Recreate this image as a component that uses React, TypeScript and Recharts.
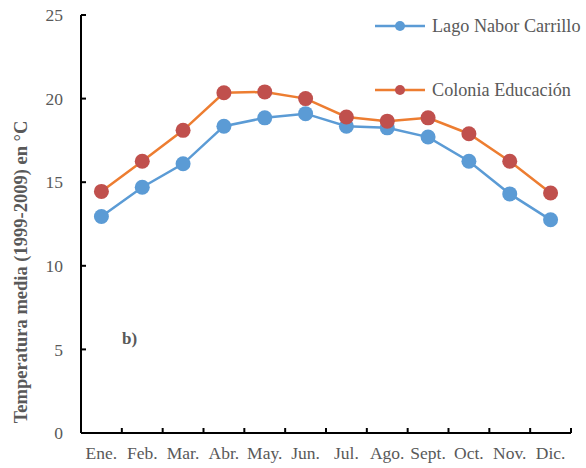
import React from "react";
import { LineChart, Line, XAxis, YAxis, Legend } from "recharts";

const months = ["Ene.", "Feb.", "Mar.", "Abr.", "May.", "Jun.", "Jul.", "Ago.", "Sept.", "Oct.", "Nov.", "Dic."];
const lagoNaborCarrillo = [12.95, 14.7, 16.1, 18.35, 18.85, 19.1, 18.35, 18.25, 17.7, 16.25, 14.3, 12.75];
const coloniaEducacion = [14.45, 16.25, 18.1, 20.35, 20.4, 20.0, 18.9, 18.65, 18.85, 17.9, 16.25, 14.35];
const yTicks = [0, 5, 10, 15, 20, 25];

const SERIES_A = "Lago Nabor Carrillo";
const SERIES_B = "Colonia Educación";

const data = months.map((m, i) => ({ m, a: lagoNaborCarrillo[i], b: coloniaEducacion[i] }));

const FONT = "Liberation Serif, Times New Roman, DejaVu Serif, serif";
const TEXT = "#595959";
const BLUE = "#5B9BD5";
const ORANGE = "#ED7D31";
const RED = "#C0504D";

const W = 586;
const H = 468;
const M = { top: 15, right: 15, left: 0, bottom: 0 };
const YW = 81;
const XH = 35;
const BAND = (W - M.right - YW) / months.length;
const X_MARGIN = 14;
const Y_MARGIN = 18;

const txt = (size: number, bold = false): React.CSSProperties => ({
  fontFamily: FONT,
  fontSize: size,
  fontWeight: bold ? 700 : 400,
  fill: TEXT,
});

const YTick = (props: any) => {
  const { x, y, payload } = props;
  const ax = x + Y_MARGIN;
  return (
    <g>
      {payload.value !== 0 ? (
        <line x1={ax} x2={ax + 5} y1={y} y2={y} stroke="#000" strokeWidth={2} />
      ) : null}
      <text x={x} y={y} dy="0.35em" textAnchor="end" style={txt(17.5)}>
        {payload.value}
      </text>
    </g>
  );
};

const XTick = (props: any) => {
  const { x, y, payload, index } = props;
  const ay = y - X_MARGIN;
  const lx = x - BAND / 2;
  const rx = x + BAND / 2;
  return (
    <g>
      {index > 0 ? <line x1={lx} x2={lx} y1={ay} y2={ay - 5} stroke="#000" strokeWidth={2} /> : null}
      {index === months.length - 1 ? (
        <line x1={rx} x2={rx} y1={ay} y2={ay - 5} stroke="#000" strokeWidth={2} />
      ) : null}
      <text x={x} y={y} dy="0.71em" textAnchor="middle" style={txt(17.5)}>
        {payload.value}
      </text>
    </g>
  );
};

const YLabel = () => (
  <g>
    <text
      x={21}
      y={272}
      transform="rotate(-90, 21, 272)"
      textAnchor="middle"
      dominantBaseline="central"
      style={txt(18.5, true)}
    >
      Temperatura media (1999-2009) en °C
    </text>
    <text x={122} y={344} style={txt(17, true)}>
      b)
    </text>
  </g>
);

const LegendContent = () => {
  const items = [
    { name: SERIES_A, line: BLUE, dot: BLUE, y: 26 },
    { name: SERIES_B, line: ORANGE, dot: RED, y: 90 },
  ];
  return (
    <svg width={216} height={110} style={{ display: "block" }}>
      {items.map((it) => (
        <g key={it.name}>
          <line x1={5} x2={55} y1={it.y} y2={it.y} stroke={it.line} strokeWidth={2.5} />
          <circle cx={30} cy={it.y} r={5} fill={it.dot} />
          <text x={62} y={it.y} dy="0.35em" style={txt(18.2)}>
            {it.name}
          </text>
        </g>
      ))}
    </svg>
  );
};

export default function App() {
  return (
    <div style={{ position: "absolute", left: 0, top: 0, width: W, height: H, background: "#fff" }}>
      <LineChart width={W} height={H} data={data} margin={M}>
        <XAxis
          dataKey="m"
          scale="band"
          height={XH}
          tickSize={0}
          tickMargin={X_MARGIN}
          tickLine={false}
          axisLine={{ stroke: "#000", strokeWidth: 2 }}
          tick={<XTick />}
          interval={0}
        />
        <YAxis
          width={YW}
          domain={[0, 25]}
          ticks={yTicks}
          tickSize={0}
          tickMargin={Y_MARGIN}
          tickLine={false}
          axisLine={{ stroke: "#000", strokeWidth: 2 }}
          tick={<YTick />}
          label={{ content: () => <YLabel /> }}
        />
        <Legend
          layout="horizontal"
          verticalAlign="middle"
          align="center"
          content={() => <LegendContent />}
          wrapperStyle={{ position: "absolute", left: 370, top: 0, width: 216, height: 110 }}
        />
        <Line
          type="linear"
          dataKey="a"
          name={SERIES_A}
          stroke={BLUE}
          strokeWidth={2.5}
          dot={{ r: 7.5, fill: BLUE, stroke: "none" }}
          activeDot={false}
          isAnimationActive={false}
        />
        <Line
          type="linear"
          dataKey="b"
          name={SERIES_B}
          stroke={ORANGE}
          strokeWidth={2.5}
          dot={{ r: 7.5, fill: RED, stroke: "none" }}
          activeDot={false}
          isAnimationActive={false}
        />
      </LineChart>
    </div>
  );
}
